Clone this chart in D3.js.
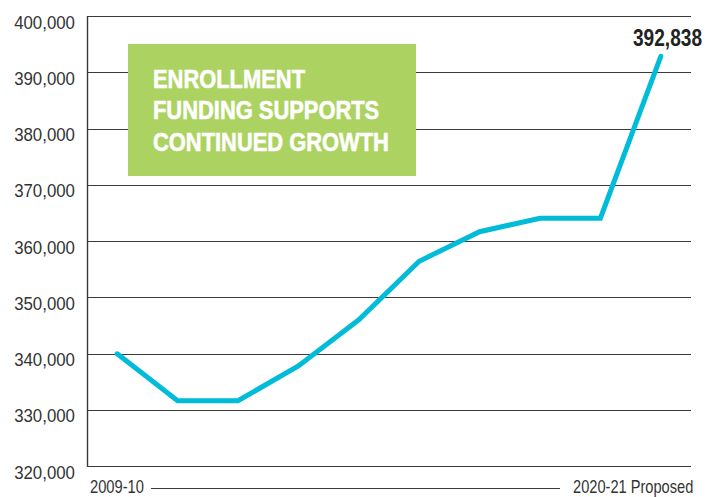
<!DOCTYPE html>
<html><head><meta charset="utf-8">
<script src="https://cdn.jsdelivr.net/npm/d3@7"></script>
<style>
html,body{margin:0;padding:0;background:#fff;}
svg{display:block;}
text{font-family:"Liberation Sans",Arial,sans-serif;}
</style></head>
<body>
<svg id="chart" width="719" height="497"></svg>
<script>
const years = ["2009-10","2010-11","2011-12","2012-13","2013-14","2014-15","2015-16","2016-17","2017-18","2020-21 Proposed"];
const enrollment = [339950, 331600, 331600, 337800, 346000, 356400, 361650, 364050, 364050, 392838];
const yTicks = [320000,330000,340000,350000,360000,370000,380000,390000,400000];
const titleLines = ["ENROLLMENT","FUNDING SUPPORTS","CONTINUED GROWTH"];
const firstLabel = "2009-10", lastLabel = "2020-21 Proposed";
const endLabel = "392,838";

(function(){
const svg = d3.select("#chart");
const pL = 87, pR = 691, pT = 16, pB = 466;

const x = d3.scalePoint().domain(years).range([pL, pR]).padding(0.5);
const y = d3.scaleLinear().domain([320000, 400000]).range([pB, pT]);
const fmt = d3.format(",");

function condense(sel, f) {
  sel.each(function() {
    const w = this.getComputedTextLength();
    this.setAttribute("textLength", (w * f).toFixed(2));
    this.setAttribute("lengthAdjust", "spacingAndGlyphs");
  });
}

// gridlines
svg.append("g").selectAll("line").data(yTicks).join("line")
  .attr("x1", pL).attr("x2", pR)
  .attr("y1", d => Math.round(y(d)) + 0.5).attr("y2", d => Math.round(y(d)) + 0.5)
  .attr("stroke", "#3a3a3a").attr("stroke-width", 1.2);

// left axis line
svg.append("line").attr("x1", pL + 0.5).attr("x2", pL + 0.5)
  .attr("y1", pT).attr("y2", pB + 1)
  .attr("stroke", "#3a3a3a").attr("stroke-width", 1.4);

// tick labels
svg.append("g").selectAll("text").data(yTicks).join("text")
  .attr("x", 75).attr("y", d => y(d) + 12.5)
  .attr("text-anchor", "end")
  .attr("font-size", 18.5).attr("fill", "#333")
  .text(d => fmt(d))
  .call(condense, 0.91);

// green title box
svg.append("rect").attr("x", 128).attr("y", 44).attr("width", 288).attr("height", 132)
  .attr("fill", "#acd361");
svg.append("g").selectAll("text").data(titleLines).join("text")
  .attr("x", 153).attr("y", (d, i) => 88 + i * 31.3)
  .attr("font-size", 26.5).attr("font-weight", "bold").attr("fill", "#fff")
  .attr("stroke", "#fff").attr("stroke-width", 0.6)
  .text(d => d)
  .call(condense, 0.826);

// line
const line = d3.line().x((d, i) => x(years[i])).y(d => y(d));
svg.append("path").datum(enrollment)
  .attr("d", line).attr("fill", "none")
  .attr("stroke", "#00bcd8").attr("stroke-width", 5)
  .attr("stroke-linejoin", "miter").attr("stroke-linecap", "round");

// end label
svg.append("text")
  .attr("x", 633).attr("y", y(enrollment[enrollment.length - 1]) - 10.5)
  .attr("font-size", 23).attr("font-weight", "bold").attr("fill", "#222")
  .text(endLabel)
  .call(condense, 0.83);

// bottom labels
svg.append("text").attr("x", 90).attr("y", 493).attr("font-size", 18.5).attr("fill", "#333")
  .text(firstLabel).call(condense, 0.795);
svg.append("text").attr("x", 573).attr("y", 493).attr("font-size", 18.5).attr("fill", "#333")
  .text(lastLabel).call(condense, 0.79);
svg.append("line").attr("x1", 151).attr("x2", 560).attr("y1", 488.5).attr("y2", 488.5)
  .attr("stroke", "#3a3a3a").attr("stroke-width", 1);
})();
</script>
</body></html>
